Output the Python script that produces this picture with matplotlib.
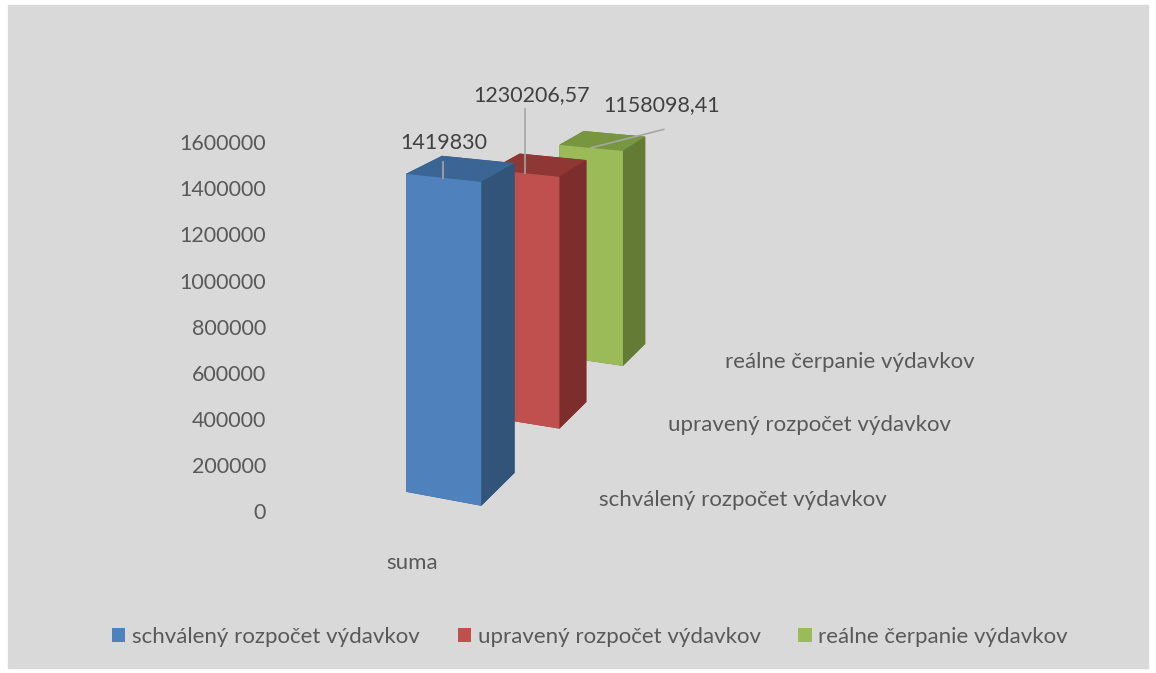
import numpy as np
import matplotlib.pyplot as plt
from matplotlib.patches import Rectangle, Patch

plt.rcParams['font.family'] = ['Lato', 'DejaVu Sans']

# chart data
category = ['suma']
series = ['schválený rozpočet výdavkov', 'upravený rozpočet výdavkov', 'reálne čerpanie výdavkov']
values = [1419830, 1230206.57, 1158098.41]
value_labels = ['1419830', '1230206,57', '1158098,41']
z_ticks = [0, 200000, 400000, 600000, 800000, 1000000, 1200000, 1400000, 1600000]

front_colors = ['#4F81BD', '#C0504D', '#9BBB59']
side_colors = ['#325479', '#7D2E2C', '#637B35']
top_colors = ['#3B6594', '#8E3735', '#77963F']

text_col = '#595959'
label_col = '#404040'

fig = plt.figure(figsize=(11.56, 6.73), dpi=100)
fig.patch.set_facecolor('white')
fig.patches.append(Rectangle((8 / 1156, 5 / 673), 1140 / 1156, 663 / 673,
                             transform=fig.transFigure, color='#D9D9D9', zorder=-10))

# level camera looking at a tall box, so the eye sits well above the bars (like Excel's 3D view)
ax = fig.add_axes([-0.1512, 0.3034, 1.2024, 2.0654], projection='3d',
                  proj_type='persp', focal_length=0.2258)
ax.set_axis_off()
ax.patch.set_alpha(0)
ax.computed_zorder = False
ax.set_xlim(-0.5, 0.5)
ax.set_ylim(-0.5, 2.5)
ax.set_zlim(0, 6580000)
ax.set_box_aspect((1, 3, 7.14), zoom=1.0)
ax.view_init(elev=0, azim=-67.5)

w = 0.4
xs, ys, colors = [], [], []
for i, v in enumerate(values):
    xs.append(-w / 2)
    ys.append(i - w / 2)
    # face order: bottom, top, front(-y), back(+y), left(-x), right(+x)
    colors += [side_colors[i], top_colors[i], front_colors[i],
               side_colors[i], side_colors[i], side_colors[i]]
bars = ax.bar3d(xs, ys, [0] * len(values), w, w, values, color=colors, shade=False)
bars.set_clip_on(False)
bars.set_zorder(1)

M = ax.get_proj()


def to2d(x, y, z):
    p = M @ np.array([x, y, z, 1.0])
    return p[0] / p[3], p[1] / p[3]


def text3d(x, y, z, s, **kw):
    px, py = to2d(x, y, z)
    ax.text2D(px, py, s, transform=ax.transData, **kw)


# value axis labels
for t in z_ticks:
    text3d(-0.705, -0.657, t, str(t), ha='right', va='center', fontsize=15.5, color=text_col)

# series labels on the floor, right of the bars (x, y offset from series position)
series_label_pos = [(1.33, 0.34), (1.41, 0.36), (1.41, 0.37)]
for i, s in enumerate(series):
    lx, ly = series_label_pos[i]
    text3d(lx, i + ly, 0, s, ha='center', va='center', fontsize=16, color=text_col)

# category label
text3d(0.154, -0.837, 0, category[0], ha='center', va='center', fontsize=16, color=text_col)

# data labels with leader lines: (dx, leader top, label dx, label z)
leaders = [(0.0, 1490000, 0.0, 1575000),
           (0.0, 1545000, 0.04, 1619000),
           (0.45, 1293000, 0.44, 1422000)]
for i, (v, lab) in enumerate(zip(values, value_labels)):
    dx, ztop, ldx, zlab = leaders[i]
    ax.plot([0, dx], [i - w / 2, i - w / 2], [v, ztop], color='#A6A6A6', lw=1.2,
            clip_on=False, zorder=2)
    text3d(ldx, i - w / 2, zlab, lab, ha='center', va='center', fontsize=15.5,
           color=label_col, zorder=3)

handles = [Patch(facecolor=c) for c in front_colors]
fig.legend(handles, series, loc='center', bbox_to_anchor=(0.5104, 1 - 637 / 673),
           ncol=3, frameon=False, fontsize=16, handlelength=0.6, handleheight=0.6,
           handletextpad=0.3, columnspacing=1.7, labelcolor=text_col)

fig.savefig('out.png', dpi=100)
